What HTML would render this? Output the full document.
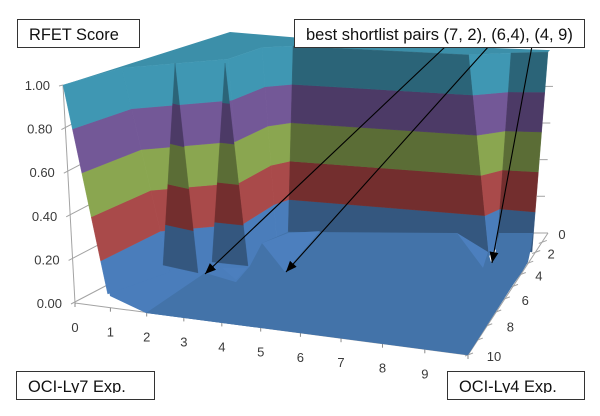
<!DOCTYPE html>
<html><head><meta charset="utf-8"><title>RFET Score surface</title>
<style>
html,body{margin:0;padding:0;background:#fff}
#chart{position:relative;width:600px;height:416px;overflow:hidden;font-family:"Liberation Sans",sans-serif}
svg{position:absolute;left:0;top:0;filter:blur(.35px)}
.box{position:absolute;box-sizing:border-box;height:29px;background:#fff;border:1.5px solid #333;color:#111;font-size:16.4px;line-height:27px;white-space:nowrap;overflow:hidden}
.box span{position:absolute;left:11px;top:1.5px;height:25px;overflow:hidden;display:block}
.box.low span{height:19px}
</style></head>
<body>
<div id="chart">
<svg id="plot" width="600" height="416" viewBox="0 0 600 416"></svg>
<svg id="notes" width="600" height="416" viewBox="0 0 600 416">
<defs><marker id="tip" markerWidth="12" markerHeight="10" refX="11" refY="4.5" orient="auto" markerUnits="userSpaceOnUse"><path d="M0,0 L11,4.5 L0,9 Z" fill="#000"/></marker></defs>
<line x1="446" y1="46" x2="205" y2="274" stroke="#000" stroke-width="1.1" marker-end="url(#tip)"/>
<line x1="489" y1="46" x2="286" y2="272" stroke="#000" stroke-width="1.1" marker-end="url(#tip)"/>
<line x1="532" y1="46" x2="492" y2="263" stroke="#000" stroke-width="1.1" marker-end="url(#tip)"/>
</svg>
<div class="box" style="left:17px;top:19px;width:123px"><span>RFET Score</span></div>
<div class="box" style="left:294px;top:19px;width:291px"><span style="font-size:16.5px">best shortlist pairs (7, 2), (6,4), (4, 9)</span></div>
<div class="box low" style="left:16px;top:371px;width:139px"><span>OCI-Ly7 Exp.</span></div>
<div class="box low" style="left:447px;top:371px;width:138px"><span>OCI-Ly4 Exp.</span></div>
</div>
<script>
// Tick labels
const zTicks = [0, 0.2, 0.4, 0.6, 0.8, 1];
const xTicks = [0, 1, 2, 3, 4, 5, 6, 7, 8, 9, 10];
const yTicks = [0, 1, 2, 3, 4, 5, 6, 7, 8, 9, 10];
// Wall stations, left to right: (x-unit, height) at the rim and at the foot
const rimX = [-0.305, 1.196, 3.893, 4.758, 5.547, 10.025, 11.094, 12.036];
const rimZ = [1, 1.078, 1.119, 1.172, 1.179, 1.138, 1.147, 1.151];
const footX = [0.891, 2.417, 4.377, 5.14, 5.42, 10.534, 10.738, 11.628];
const footZ = [-0.009, 0.142, 0.174, 0.271, 0.298, 0.216, 0.252, 0.234];
const wallFacing = [1, 1, 1, 1, 0, 1, 0];
// Top edge of the surface
const capX = [-0.305, 3.944, 5.725, 10.051, 12.087];
const capZ = [1, 1.243, 1.216, 1.174, 1.16];
// Spikes at the shortlisted pairs
const spikeApexX = [2.545, 3.817];
const spikeApexZ = [1.101, 1.101];
const spikeLeftX = [2.239, 3.486];
const spikeLeftZ = [0.174, 0.188];
const spikeRightX = [3.13, 4.402];
const spikeRightZ = [0.138, 0.17];
// Floor outlines
const floorBaseX = [0.738, 0.891, 1.807, 10, 5.725];
const floorBaseZ = [0.188, 0.032, -0.046, -0.239, 0.197];
const floorMainX = [1.807, 3.308, 4.097, 4.453, 4.758, 5.42, 9.72, 10.509, 10.585, 10.687, 10.789, 11.654, 11.603, 11.527, 11.374, 11.145, 10];
const floorMainZ = [-0.046, 0.138, 0.096, 0.17, 0.275, 0.326, 0.321, 0.234, 0.188, 0.22, 0.321, 0.321, 0.252, 0.188, 0.142, 0.083, -0.239];
const patchX = [[3.74, 4.377, 4.097], [4.758, 5.42, 6.234, 5.344], [9.72, 10.509, 10.382]];
const patchZ = [[0.161, 0.161, 0.106], [0.275, 0.321, 0.33, 0.142], [0.321, 0.234, 0.161]];

const lightBand = ['#4a7dbb', '#a94a4a', '#8aa650', '#735897', '#3f97b3'];
const darkBand = ['#34577f', '#732e2e', '#5b6d36', '#4c3a66', '#2b6478'];

const sx = v => 75 + v * 39.3;
const sz = z => 303 - z * 218;
const lerp = (a, b, t) => a + (b - a) * t;
const NS = 'http://www.w3.org/2000/svg';
const plot = document.getElementById('plot');
function mk(tag, attrs) {
  const e = document.createElementNS(NS, tag);
  for (const k in attrs) e.setAttribute(k, attrs[k]);
  plot.appendChild(e);
  return e;
}
const ptsOf = (xs, zs) => xs.map((v, i) => sx(v).toFixed(1) + ',' + sz(zs[i]).toFixed(1));
// Perspective along the front and side floor edges
const frontX = v => { const t = v / 10; return 75 + 393 * t * (0.89 + 0.11 * t); };
const frontY = v => 303 + 52 * (frontX(v) - 75) / 393;
const sideG = y => { const f = (10 - y) / 10; return f * (1.25 - 0.25 * f); };
const sideX = y => 468 + 80 * sideG(y);
const sideY = y => 355 - 122 * sideG(y);

// Axes under the surface
const zAxis = mk('line', {x1: 75, y1: 303, x2: 63, y2: 85, stroke: '#a3a3a3', 'stroke-width': 1});


const xAxis = mk('line', {x1: frontX(0), y1: frontY(0), x2: frontX(10), y2: frontY(10), stroke: '#a3a3a3', 'stroke-width': 1});


const yAxis = mk('line', {x1: sideX(10), y1: sideY(10), x2: sideX(0), y2: sideY(0), stroke: '#a3a3a3', 'stroke-width': 1});



zTicks.forEach(z => {
  const ax = 75 - 12 * z, ay = sz(z);
  const reach = z === 1 ? 0 : 40;
  const tick = mk('line', {x1: ax - 4, y1: ay + 1, x2: ax + reach, y2: ay - reach * 0.55, stroke: '#a3a3a3', 'stroke-width': 1});
  
  
  const lab = mk('text', {x: ax - 13, y: ay + 5, 'text-anchor': 'end', 'font-size': 13, fill: '#3a3a3a', 'font-family': '"Liberation Sans",sans-serif'});
  lab.textContent = z.toFixed(2);
  
  
  if (z > 0.3) {
    const rx = 537 + (z - 0.4) * 13.3, ry = sz(z) * 0.84 + 15;
    const rtick = mk('line', {x1: rx, y1: ry, x2: rx + 8, y2: ry, stroke: '#a3a3a3', 'stroke-width': 1});
    
    
  }
});
xTicks.forEach(v => {
  const tick = mk('line', {x1: frontX(v), y1: frontY(v), x2: frontX(v), y2: frontY(v) + 4, stroke: '#8a8a8a', 'stroke-width': 1});
  
  
  if (v < 10) {
    const lab = mk('text', {x: frontX(v), y: frontY(v) + 29, 'text-anchor': 'middle', 'font-size': 13, fill: '#3a3a3a', 'font-family': '"Liberation Sans",sans-serif'});
    lab.textContent = v;
    
    
  }
});
yTicks.forEach(y => {
  const ex = sideX(y), ey = sideY(y);
  const tick = y === 0
    ? mk('line', {x1: ex - 15, y1: ey, x2: ex, y2: ey, stroke: '#a3a3a3', 'stroke-width': 1})
    : mk('line', {x1: ex + 5, y1: ey - 2, x2: ex - 3, y2: ey + 1, stroke: '#a3a3a3', 'stroke-width': 1});
  
  
  if (y % 2 === 0) {
    const lab = mk('text', {x: ex + 26 - 12 * sideG(y), y: ey + 6, 'text-anchor': 'middle', 'font-size': 13, fill: '#3a3a3a', 'font-family': '"Liberation Sans",sans-serif'});
    lab.textContent = y;
    
    
  }
});

// Floor beneath the wall
const floorBase = mk('polygon', {points: ptsOf(floorBaseX, floorBaseZ).join(' '), fill: lightBand[0]});



// Top cap of the surface
const capPts = ptsOf(capX, capZ).concat(ptsOf(rimX, rimZ).reverse());
const cap = mk('polygon', {points: capPts.join(' '), fill: '#3c8fa9'});



// Wall: one polygon per station segment per colour band
wallFacing.forEach((lit, i) => {
  lightBand.forEach((col, b) => {
    const t1 = (b + 1) * 0.2;
    const bottom = j => (b === 0 && j === 0) ? 0.05 : b * 0.2;
    const at = (j, t) => sx(lerp(footX[j], rimX[j], t)).toFixed(1) + ',' + sz(lerp(footZ[j], rimZ[j], t)).toFixed(1);
    const poly = mk('polygon', {
      points: [at(i, bottom(i)), at(i + 1, bottom(i + 1)), at(i + 1, t1), at(i, t1)].join(' '),
      fill: lit ? col : darkBand[b], stroke: lit ? col : darkBand[b], 'stroke-width': 0.4
    });
    
    
  });
});

// Spikes
spikeApexX.forEach((ax, i) => {
  darkBand.forEach((col, b) => {
    const t0 = b * 0.2, t1 = (b + 1) * 0.2;
    const L = t => sx(lerp(spikeLeftX[i], ax, t)).toFixed(1) + ',' + sz(lerp(spikeLeftZ[i], spikeApexZ[i], t)).toFixed(1);
    const R = t => sx(lerp(spikeRightX[i], ax, t)).toFixed(1) + ',' + sz(lerp(spikeRightZ[i], spikeApexZ[i], t)).toFixed(1);
    const poly = mk('polygon', {points: [L(t0), R(t0), R(t1), L(t1)].join(' '), fill: col, stroke: col, 'stroke-width': 0.3});
    
    
  });
});

// Main floor and its lighter facets
const floorMain = mk('polygon', {points: ptsOf(floorMainX, floorMainZ).join(' '), fill: '#4373a9'});


patchX.forEach((xs, i) => {
  const patch = mk('polygon', {points: ptsOf(xs, patchZ[i]).join(' '), fill: '#4c7fbe'});
  
  
});
</script>
</body></html>
